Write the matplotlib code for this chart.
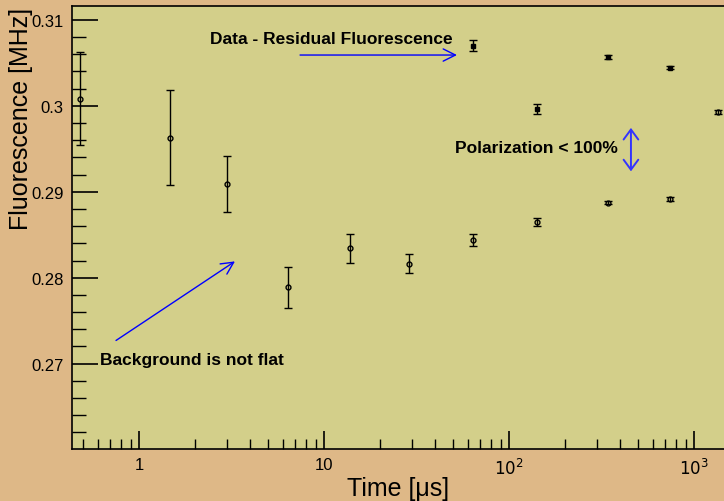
import matplotlib
matplotlib.use('Agg')
import matplotlib.pyplot as plt
from matplotlib.ticker import LogLocator, FixedLocator, MultipleLocator, FuncFormatter

plt.rcParams['font.family'] = ['Liberation Sans', 'DejaVu Sans']

# lower branch: background-ish measurement
t_low = [0.48, 1.47, 2.99, 6.41, 13.9, 28.9, 63.6, 142, 344, 739, 1348]
f_low = [0.3008, 0.2963, 0.2909, 0.2789, 0.2834, 0.2816, 0.2844, 0.2865, 0.28872, 0.28918, 0.29926]
e_low = [0.0054, 0.0055, 0.0032, 0.0024, 0.0017, 0.0011, 0.0007, 0.00043, 0.0002, 0.0002, 0.0002]

# upper branch
t_up = [63.6, 142, 344, 739]
f_up = [0.3070, 0.2996, 0.30565, 0.30443]
e_up = [0.00068, 0.00058, 0.00025, 0.0002]

fig = plt.figure(figsize=(7.24, 5.02), dpi=100, facecolor='#DEB887')
ax = fig.add_axes([0.0994, 0.104, 0.9006, 0.882], facecolor='#D3CF8A')

ax.errorbar(t_low, f_low, yerr=e_low, fmt='o', ms=3.5, mfc='none', mec='black', mew=1.0,
            ecolor='black', elinewidth=1.0, capsize=3, capthick=1.0)
ax.errorbar(t_up, f_up, yerr=e_up, fmt='s', ms=3, mfc='black', mec='black',
            ecolor='black', elinewidth=1.0, capsize=3, capthick=1.0)

ax.set_xscale('log')
ax.set_xlim(0.434, 1452)
ax.set_ylim(0.2601, 0.3116)

ax.xaxis.set_major_locator(LogLocator(base=10, numticks=10))
ax.xaxis.set_minor_locator(LogLocator(base=10, subs=range(2, 10), numticks=20))
xlab = {1: '1', 10: '10', 100: r'$10^{2}$', 1000: r'$10^{3}$'}
ax.xaxis.set_major_formatter(FuncFormatter(lambda v, p: xlab.get(int(round(v)), '')))

ax.yaxis.set_major_locator(FixedLocator([0.27, 0.28, 0.29, 0.30, 0.31]))
ax.set_yticklabels(['0.27', '0.28', '0.29', '0.3', '0.31'])
ax.yaxis.set_minor_locator(MultipleLocator(0.002))

ax.tick_params(axis='both', which='both', direction='in', top=False, right=False,
               labelsize=12, colors='black', pad=6)
ax.tick_params(axis='y', which='major', length=19, width=1.2)
ax.tick_params(axis='y', which='minor', length=10, width=1.0)
ax.tick_params(axis='x', which='major', length=13, width=1.2)
ax.tick_params(axis='x', which='minor', length=7, width=1.0)

for s in ['left', 'bottom', 'top']:
    ax.spines[s].set_linewidth(1.2)
ax.spines['right'].set_visible(False)

fig.text(398 / 724, 1 - 489 / 502, 'Time [μs]', fontsize=18, ha='center', va='center')
fig.text(21 / 724, 1 - 8 / 502, 'Fluorescence [MHz]', fontsize=18, rotation=90,
         ha='center', va='top')

arrow = dict(arrowstyle='->', color='blue', lw=1.0, mutation_scale=22, shrinkA=0, shrinkB=0)
ax.annotate('Data - Residual Fluorescence', xy=(2.42, 0.3078), fontsize=12.5, fontweight='bold',
            ha='left', va='center')
ax.annotate('', xy=(52.3, 0.3059), xytext=(7.42, 0.3059), arrowprops=arrow)

ax.annotate('Polarization < 100%', xy=(51.1, 0.2951), fontsize=12.5, fontweight='bold',
            ha='left', va='center')
ax.annotate('', xy=(456, 0.29743), xytext=(456, 0.29237),
            arrowprops=dict(arrowstyle='<->, head_length=0.3, head_width=0.22', color='#3333FF',
                            lw=1.4, mutation_scale=24, shrinkA=0, shrinkB=0))

ax.annotate('Background is not flat', xy=(0.616, 0.2705), fontsize=12.5, fontweight='bold',
            ha='left', va='center')
ax.annotate('', xy=(3.30, 0.2819), xytext=(0.751, 0.2727), arrowprops=arrow)

fig.savefig('out.png', dpi=100, facecolor=fig.get_facecolor())
